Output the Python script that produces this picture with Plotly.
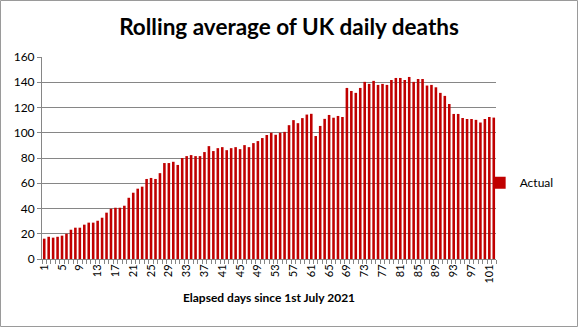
import plotly.graph_objects as go

# ---- data ----
days = list(range(1, 103))
actual = [
    16.1, 17.6, 16.9, 17.6, 18.5, 20.0, 23.2, 24.8, 24.8, 27.2,
    28.8, 28.8, 30.3, 32.7, 36.7, 39.8, 40.6, 40.6, 42.2, 48.5,
    52.5, 55.7, 57.3, 63.4, 64.2, 63.4, 68.0, 76.0, 76.0, 77.0,
    74.5, 80.0, 81.5, 82.3, 81.5, 81.5, 84.7, 89.4, 85.5, 87.8,
    88.6, 86.2, 87.8, 88.6, 87.0, 90.2, 88.6, 91.8, 93.4, 95.8,
    98.2, 100.0, 98.4, 100.0, 100.7, 106.0, 110.0, 107.6, 111.6, 114.4,
    115.0, 97.4, 105.4, 111.0, 114.1, 111.9, 113.3, 112.5, 135.5, 133.1,
    131.6, 135.5, 140.3, 138.7, 141.1, 137.9, 138.7, 137.9, 141.8, 143.4,
    143.4, 141.8, 144.2, 140.3, 142.6, 142.6, 137.4, 137.9, 136.0, 131.6,
    129.2, 122.8, 114.9, 114.9, 111.7, 110.9, 110.9, 110.2, 108.1, 110.9,
    112.5, 112.0,
]
x_labels = [str(d) for d in days[::4]]
y_ticks = [0, 20, 40, 60, 80, 100, 120, 140, 160]
series_name = "Actual"
title_text = "Rolling average of UK daily deaths"
x_title = "Elapsed days since 1st July 2021"

W, H = 578, 327
ML, MR, MT, MB = 42, 82, 57, 68
pw, ph = W - ML - MR, H - MT - MB

fig = go.Figure()
fig.add_trace(go.Bar(
    x=days, y=actual, name=series_name,
    marker=dict(color="#C00000", line=dict(width=0)),
    showlegend=True,
))

fig.update_layout(
    width=W, height=H,
    margin=dict(l=ML, r=MR, t=MT, b=MB, pad=0, autoexpand=False),
    paper_bgcolor="white", plot_bgcolor="white",
    font=dict(family="Lato, Calibri, sans-serif", color="black"),
    bargap=0.42,
    title=dict(text="<b>" + title_text + "</b>", x=0.5, xanchor="center",
               y=1 - 27 / H, yanchor="middle",
               font=dict(size=22.5, family="Lato, sans-serif", color="black")),
    legend=dict(x=0.964, xanchor="left", y=0.378, yanchor="middle",
                font=dict(size=12), itemwidth=30, bgcolor="rgba(0,0,0,0)",
                tracegroupgap=0),
    showlegend=True,
)

fig.update_xaxes(
    range=[0.5, len(days) + 0.5],
    tickmode="array", tickvals=days[::4], ticktext=x_labels,
    tickangle=-90, tickfont=dict(size=11),
    ticks="", showgrid=False,
    showline=True, linecolor="#868686", linewidth=1,
    minor=dict(tickmode="array", tickvals=[d - 0.5 for d in days] + [days[-1] + 0.5],
               ticks="outside", ticklen=4, tickcolor="#868686", showgrid=False),
    title=dict(text="<b>" + x_title + "</b>", font=dict(size=12), standoff=11),
    automargin=False,
    fixedrange=True,
)
fig.update_yaxes(
    range=[0, 160], tickmode="array", tickvals=y_ticks,
    tickfont=dict(size=12),
    showgrid=True, gridcolor="#868686", gridwidth=1,
    showline=True, linecolor="#868686", linewidth=1,
    ticks="outside", ticklen=4, tickcolor="#868686",
    zeroline=False, fixedrange=True, automargin=False,
)

# outer chart border
fig.add_shape(type="rect", xref="paper", yref="paper",
              x0=-(ML - 0.5) / pw, x1=1 + (MR - 0.5) / pw,
              y0=-(MB - 0.5) / ph, y1=1 + (MT - 0.5) / ph,
              line=dict(color="#9a9a9a", width=1), layer="below")

fig.write_html("out.html", config={"displayModeBar": False})
